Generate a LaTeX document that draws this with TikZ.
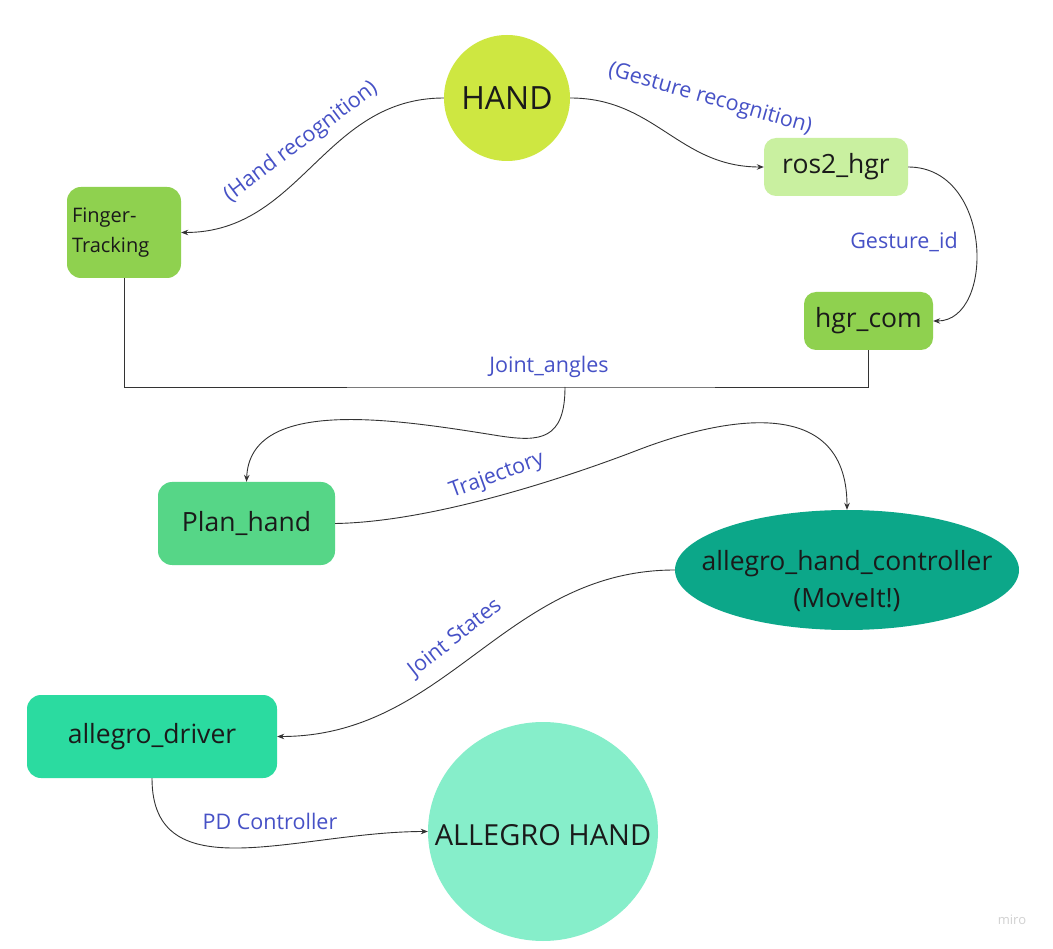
\documentclass[tikz,border=0pt]{standalone}
\usepackage{fontspec}
\setmainfont{Open Sans}
\usetikzlibrary{arrows.meta,shapes.geometric}
\definecolor{ink}{HTML}{1A1A1A}
\definecolor{wire}{HTML}{333333}
\definecolor{lblblue}{HTML}{4651C6}
\definecolor{handgreen}{HTML}{CEE741}
\definecolor{leafgreen}{HTML}{8FD14F}
\definecolor{palegreen}{HTML}{C9F0A0}
\definecolor{plangreen}{HTML}{56D687}
\definecolor{tealgreen}{HTML}{0CA789}
\definecolor{mintgreen}{HTML}{2BDBA0}
\definecolor{foamgreen}{HTML}{86EECA}
\begin{document}
\begin{tikzpicture}[x=1pt,y=-1pt,
    box/.style={rectangle,rounded corners=14pt,inner sep=0pt,text=ink},
    blob/.style={ellipse,inner sep=0pt,text=ink},
    lbl/.style={text=lblblue,inner sep=0pt,font=\fontsize{21.5}{26}\selectfont}]
  \fill[white] (0,0) rectangle (1053,949);
  \useasboundingbox (0,0) rectangle (1053,949);
  \draw[draw=none]
    (507,98) node[circle,inner sep=0pt,fill=handgreen,text=ink,minimum size=126pt,
      font=\fontsize{32}{38}\selectfont] (hand){HAND}
    (124,232.5) node[box,fill=leafgreen,minimum width=114pt,minimum height=91pt,
      text width=104pt,align=left,inner xsep=5pt,
      font=\fontsize{20}{32}\selectfont] (finger){\raisebox{-2pt}{Finger-}\\Tracking}
    (836,167) node[box,rounded corners=12pt,fill=palegreen,minimum width=144pt,
      minimum height=58pt,font=\fontsize{26.5}{32}\selectfont] (ros2){ros2\_hgr}
    (868.5,321) node[box,rounded corners=12pt,fill=leafgreen,minimum width=129pt,
      minimum height=58pt,font=\fontsize{26.5}{32}\selectfont] (hgr){hgr\_com}
    (246.5,523.5) node[box,fill=plangreen,minimum width=177pt,minimum height=83pt,
      font=\fontsize{26.5}{32}\selectfont] (plan){\raisebox{-2pt}{Plan\_hand}}
    (847,570) node[blob,fill=tealgreen,minimum width=344pt,minimum height=120pt,
      label={[align=center,text=ink,yshift=-11pt,font=\fontsize{26.5}{37}\selectfont]center:allegro\_hand\_controller\\(MoveIt!)}] (ctrl){}
    (152,736.5) node[box,fill=mintgreen,minimum width=250pt,minimum height=83pt,
      font=\fontsize{26.5}{32}\selectfont] (driver){\raisebox{-2pt}{allegro\_driver}}
    (543,831.5) node[blob,fill=foamgreen,minimum width=230pt,minimum height=219pt,
      label={[text=ink,yshift=-4pt,font=\fontsize{29}{34}\selectfont]center:ALLEGRO HAND}] (ahand){};
  \coordinate (ja) at (565,387);
  % connector labels
  \node[lbl,rotate=37] (lhand) at (301,142) {(Hand recognition)};
  \node[lbl,rotate=-16] (lgest) at (710,99) {(Gesture recognition)};
  \node[lbl] (lgid) at (904,242) {Gesture\_id};
  \node[lbl] (ljoint) at (549,367) {Joint\_angles};
  \node[lbl,rotate=20] (ltraj) at (497,476) {Trajectory};
  \node[lbl,rotate=38] (lstates) at (455,638) {Joint States};
  \node[lbl] (lpd) at (270,821) {PD Controller};
  \node[text=black!18,inner sep=0pt,font=\fontsize{13}{15}\selectfont] (miro) at (1012,920) {miro};
  \begin{scope}[-{Stealth[length=7pt,width=5.5pt]},draw=wire,line width=0.9pt]
    \draw (hand.west) to[out=180,in=0,distance=120pt] (finger.east);
    \draw (hand.east) to[out=0,in=180,distance=85pt] (ros2.west);
    \draw (ros2.east) to[out=0,in=0,out distance=85pt,in distance=62pt] (hgr.east);
    \draw[-] (finger.south) |- (ja) -| (hgr.south);
    \draw (ja) .. controls (565,440) and (540,442) .. (500,436)
      .. controls (400,420) and (250,395) .. (plan.north);
    \draw (plan.east) .. controls (430,522) and (560,480) .. (638,450)
      .. controls (716,420) and (847,390) .. (ctrl.north);
    \draw (ctrl.west) to[out=180,in=0,distance=170pt] (driver.east);
    \draw (driver.south) to[out=270,in=180,out distance=115pt,in distance=130pt] (ahand.west);
  \end{scope}
\end{tikzpicture}
\end{document}
